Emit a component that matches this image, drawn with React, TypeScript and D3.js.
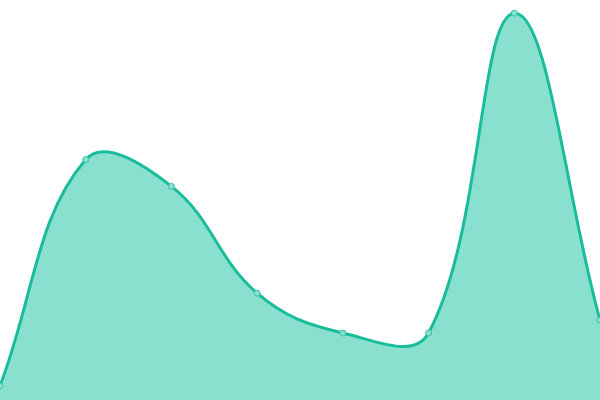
import React from "react";
import * as d3 from "d3";

const labels = ["A", "B", "C", "D", "E", "F", "G", "H"];
const values = [3.5, 60.1, 53.4, 26.7, 16.75, 16.75, 96.7, 20];

const W = 600;
const H = 400;
const LINE = "#1abc9c";
const FILL = "#89e0cf";
const TENSION = 0.4;

type P = { x: number; y: number };

function controlPoints(pts: P[], t: number) {
  return pts.map((cur, i) => {
    const prev = pts[i - 1] || cur;
    const next = pts[i + 1] || cur;
    const d01 = Math.hypot(cur.x - prev.x, cur.y - prev.y);
    const d12 = Math.hypot(next.x - cur.x, next.y - cur.y);
    let s01 = d01 / (d01 + d12);
    let s12 = d12 / (d01 + d12);
    if (isNaN(s01)) s01 = 0;
    if (isNaN(s12)) s12 = 0;
    const fa = t * s01;
    const fb = t * s12;
    const clampX = (v: number) => Math.max(0, Math.min(W, v));
    const clampY = (v: number) => Math.max(0, Math.min(H, v));
    return {
      prev: { x: clampX(cur.x - fa * (next.x - prev.x)), y: clampY(cur.y - fa * (next.y - prev.y)) },
      next: { x: clampX(cur.x + fb * (next.x - prev.x)), y: clampY(cur.y + fb * (next.y - prev.y)) },
    };
  });
}

export default function App() {
  const x = d3.scalePoint<string>().domain(labels).range([0, W]);
  const y = d3.scaleLinear().domain([0, 100]).range([H, 0]);
  const pts: P[] = labels.map((l, i) => ({ x: x(l) as number, y: y(values[i]) }));
  const cps = controlPoints(pts, TENSION);

  const linePath = d3.path();
  linePath.moveTo(pts[0].x, pts[0].y);
  for (let i = 1; i < pts.length; i++) {
    const a = cps[i - 1].next;
    const b = cps[i].prev;
    linePath.bezierCurveTo(a.x, a.y, b.x, b.y, pts[i].x, pts[i].y);
  }
  const lineD = linePath.toString();
  const areaD = `${lineD}L${pts[pts.length - 1].x},${y(0)}L${pts[0].x},${y(0)}Z`;

  return (
    <svg
      width={W}
      height={H}
      style={{ position: "absolute", left: 0, top: 0, display: "block" }}
    >
      <rect width={W} height={H} fill="#ffffff" />
      <path d={areaD} fill={FILL} stroke="none" />
      <path d={lineD} fill="none" stroke={LINE} strokeWidth={3} strokeLinejoin="round" />
      {pts.map((p, i) => (
        <circle key={labels[i]} cx={p.x} cy={p.y} r={3} fill={FILL} stroke="#3cc4a8" strokeWidth={1} />
      ))}
    </svg>
  );
}
